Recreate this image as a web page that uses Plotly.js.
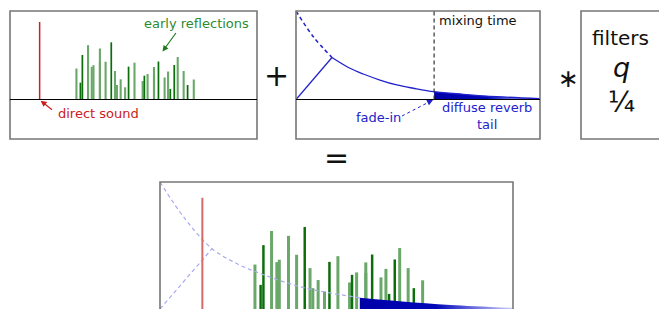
<!DOCTYPE html>
<html>
<head>
<meta charset="utf-8">
<script src="https://cdn.plot.ly/plotly-3.0.1.min.js"></script>
<style>html,body{margin:0;padding:0;background:#fff;}#chart{width:659px;height:309px;}</style>
</head>
<body>
<div id="chart"></div>
<script>
// ---- data (time in % of panel width, height relative to full-scale) ----
const directT = 12.0;
const directH = 0.876;

const lightT = [26.9, 31.6, 33.1, 33.8, 36.4, 36.4, 38.7, 42.5, 43.3, 44.8, 46.6, 50.4, 53.7, 55.7, 58.3, 58.3, 62.6, 64.0, 67.9, 70.3, 74.4];
const lightH = [0.350, 0.614, 0.369, 0.388, 0.576, 0.427, 0.427, 0.322, 0.164, 0.228, 0.138, 0.416, 0.209, 0.288, 0.367, 0.285, 0.249, 0.316, 0.480, 0.322, 0.226];
const darkT = [28.5, 29.3, 41.0, 48.0, 54.4, 60.1, 64.9, 66.5, 71.9];
const darkH = [0.190, 0.503, 0.646, 0.371, 0.269, 0.429, 0.119, 0.390, 0.164];

const envT = [0, 7.1, 14.75, 22.1, 27.6, 34.4, 41.3, 48.1, 56.6, 68.6, 82.3, 100];
const envH = [1.0, 0.71, 0.475, 0.353, 0.288, 0.22, 0.164, 0.127, 0.088, 0.059, 0.032, 0.009];
const fadeInT = [0, 14.75];
const fadeInH = [0, 0.475];
const mixingTime = 56.6;

// ---- helpers ----
const W = 659, H = 309;
const px = v => v / W;
const py = v => 1 - v / H;
const FONT = 'DejaVu Sans';
const BLUE = '#2222cc';
const peak = envT.indexOf(fadeInT[1]);
const mix = envT.indexOf(mixingTime);
const tailT = envT.slice(mix), tailH = envH.slice(mix);
const tailFill = {type: 'horizontal', colorscale: [[0, '#0000a8'], [0.5, '#0008b8'], [1, 'rgba(40,40,220,0.25)']]};

function bars(xa, ya) {
  return [
    {type: 'bar', x: lightT, y: lightH, width: 0.85, xaxis: xa, yaxis: ya,
     marker: {color: '#6aa86a', line: {width: 0}}, hoverinfo: 'skip'},
    {type: 'bar', x: darkT, y: darkH, width: 0.7, xaxis: xa, yaxis: ya,
     marker: {color: '#0b6e0b', line: {width: 0}}, hoverinfo: 'skip'}
  ];
}

const traces = [
  // panel 1
  ...bars('x', 'y'),
  {type: 'scatter', mode: 'lines', x: [directT, directT], y: [0, directH], xaxis: 'x', yaxis: 'y',
   line: {color: '#cc1f1f', width: 1.5}, hoverinfo: 'skip'},
  // panel 2
  {type: 'scatter', mode: 'lines', x: tailT, y: tailH, xaxis: 'x2', yaxis: 'y2',
   fill: 'tozeroy', fillgradient: tailFill, line: {width: 0, shape: 'spline'}, hoverinfo: 'skip'},
  {type: 'scatter', mode: 'lines', x: envT.slice(0, peak + 1), y: envH.slice(0, peak + 1), xaxis: 'x2', yaxis: 'y2',
   line: {color: BLUE, width: 1.5, dash: '4px,3px', shape: 'spline'}, hoverinfo: 'skip'},
  {type: 'scatter', mode: 'lines', x: envT.slice(peak), y: envH.slice(peak), xaxis: 'x2', yaxis: 'y2',
   line: {color: BLUE, width: 1.3, shape: 'spline'}, hoverinfo: 'skip'},
  {type: 'scatter', mode: 'lines', x: fadeInT, y: fadeInH, xaxis: 'x2', yaxis: 'y2',
   line: {color: BLUE, width: 1.3}, hoverinfo: 'skip'},
  // bottom (sum)
  {type: 'scatter', mode: 'lines', x: tailT, y: tailH, xaxis: 'x4', yaxis: 'y4',
   fill: 'tozeroy', fillgradient: tailFill, line: {width: 0, shape: 'spline'}, hoverinfo: 'skip'},
  {type: 'scatter', mode: 'lines', x: envT.slice(0, mix + 1), y: envH.slice(0, mix + 1), xaxis: 'x4', yaxis: 'y4',
   line: {color: '#a9a9ee', width: 1.2, dash: '4px,3px', shape: 'spline'}, hoverinfo: 'skip'},
  {type: 'scatter', mode: 'lines', x: fadeInT, y: fadeInH, xaxis: 'x4', yaxis: 'y4',
   line: {color: '#a9a9ee', width: 1.2, dash: '4px,3px'}, hoverinfo: 'skip'},
  ...bars('x4', 'y4'),
  {type: 'scatter', mode: 'lines', x: [directT, directT], y: [0, directH], xaxis: 'x4', yaxis: 'y4',
   line: {color: '#d66a6a', width: 2}, hoverinfo: 'skip'}
];

const ax = (domain, range) => ({domain, range, visible: false, fixedrange: true});
const yTop = [py(139), py(11)];
const yRange = [-39.5 / 88.5, 1.0];

const boxLine = {color: '#777', width: 1.6};
const shapes = [
  {type: 'rect', xref: 'x domain', yref: 'y domain', x0: 0, x1: 1, y0: 0, y1: 1, line: boxLine},
  {type: 'line', xref: 'x domain', yref: 'y', x0: 0, x1: 1, y0: 0, y1: 0, line: {color: '#000', width: 1.2}},
  {type: 'rect', xref: 'x2 domain', yref: 'y2 domain', x0: 0, x1: 1, y0: 0, y1: 1, line: boxLine},
  {type: 'line', xref: 'x2 domain', yref: 'y2', x0: 0, x1: 1, y0: 0, y1: 0, line: {color: '#000', width: 1.2}},
  {type: 'line', xref: 'x2', yref: 'y2', x0: mixingTime, x1: mixingTime, y0: 0, y1: 1.0, line: {color: '#333', width: 1.2, dash: '4px,3px'}},
  {type: 'line', xref: 'paper', yref: 'paper', x0: px(402), y0: py(116), x1: px(430), y1: py(101.5), line: {color: BLUE, width: 1, dash: 'dot'}},
  {type: 'rect', xref: 'paper', yref: 'paper', x0: px(581), x1: 1.05, y0: py(139), y1: py(11), line: boxLine},
  {type: 'rect', xref: 'x4 domain', yref: 'y4 domain', x0: 0, x1: 1, y0: -0.2, y1: 1, line: boxLine}
];

const ann = (text, x, y, size, color, extra) => Object.assign({
  text, x: px(x), y: py(y), xref: 'paper', yref: 'paper', showarrow: false,
  font: {family: FONT, size, color}, xanchor: 'center', yanchor: 'middle'
}, extra || {});
const arrow = (hx, hy, tx, ty, color) => ({
  text: '', x: px(hx), y: py(hy), xref: 'paper', yref: 'paper', showarrow: true,
  ax: tx - hx, ay: ty - hy, arrowcolor: color, arrowwidth: 1.2, arrowhead: 2, arrowsize: 1, standoff: 0
});

const annotations = [
  ann('early reflections', 196.7, 24, 13, '#2e8b2e'),
  arrow(162.5, 51.5, 177, 31.5, '#1f7a1f'),
  ann('direct sound', 56, 113.3, 13, '#cc2020', {xanchor: 'left'}),
  arrow(40.7, 100.7, 53.5, 111, '#cc2020'),
  ann('mixing time', 436.5, 20.5, 13, '#111', {xanchor: 'left'}),
  ann('fade-in', 378, 117.3, 13, BLUE),
  arrow(433, 100, 427, 103, BLUE),
  ann('diffuse reverb<br>tail', 486.5, 116, 13, BLUE, {borderpad: 0}),
  ann('filters', 620, 38, 20, '#111'),
  ann('<i>q</i>', 621.5, 67, 27, '#111'),
  ann('¼', 621, 102, 28, '#111'),
  ann('+', 276, 75, 30, '#111'),
  ann('∗', 568, 78, 25, '#111'),
  ann('=', 336, 157.5, 30, '#111')
];

const layout = {
  width: W, height: H, margin: {l: 0, r: 0, t: 0, b: 0},
  paper_bgcolor: '#fff', plot_bgcolor: 'rgba(0,0,0,0)', showlegend: false, barmode: 'overlay',
  xaxis: ax([px(10), px(257)], [0, 100]),
  yaxis: ax(yTop, yRange),
  xaxis2: ax([px(296), px(540)], [0, 100]),
  yaxis2: ax(yTop, yRange),
  xaxis4: ax([px(160), px(513)], [0, 100]),
  yaxis4: ax([0, py(182)], [0, 1.0]),
  shapes, annotations
};

Plotly.newPlot('chart', traces, layout, {staticPlot: true, displayModeBar: false});
</script>
</body>
</html>
